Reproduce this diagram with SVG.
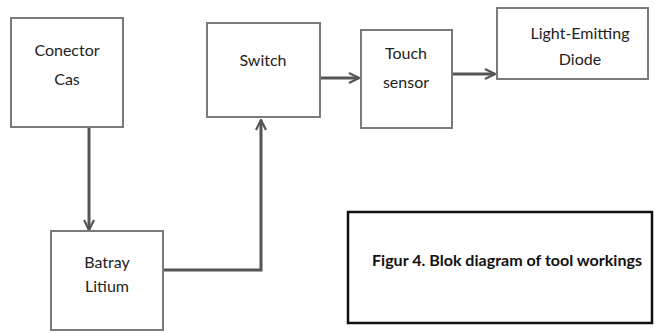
<svg xmlns="http://www.w3.org/2000/svg" width="655" height="333" viewBox="0 0 655 333">
<defs>
<style>
.box{fill:#fff;stroke:#7a7a7a;stroke-width:2}
.lbl{font-family:Lato,"Liberation Sans",sans-serif;font-size:16px;fill:#222;text-anchor:middle}
.con{fill:none;stroke:#555;stroke-width:3}
.cap{font-family:Lato,"Liberation Sans",sans-serif;font-size:15px;font-weight:bold;fill:#111}
</style>
<marker id="ah" viewBox="0 0 12 12" refX="11" refY="6" markerWidth="12" markerHeight="12" markerUnits="userSpaceOnUse" orient="auto">
<path d="M1,1 L11,6 L1,11" fill="none" stroke="#555" stroke-width="2.2"/>
</marker>
</defs>
<rect width="655" height="333" fill="#fff"/>
<g id="connectors">
<line class="con" x1="89" y1="127" x2="89" y2="230" marker-end="url(#ah)"/>
<polyline class="con" points="163,270 261,270 261,120" marker-end="url(#ah)"/>
<line class="con" x1="320" y1="78" x2="359" y2="78" marker-end="url(#ah)"/>
<line class="con" x1="452" y1="74" x2="495" y2="74" marker-end="url(#ah)"/>
</g>
<g id="conector-cas">
<rect class="box" x="11" y="18" width="112" height="109"/>
<text class="lbl" x="67" y="56">Conector</text>
<text class="lbl" x="67" y="85">Cas</text>
</g>
<g id="batray-litium">
<rect class="box" x="51" y="231" width="112" height="99"/>
<text class="lbl" x="107" y="268">Batray</text>
<text class="lbl" x="107" y="292">Litium</text>
</g>
<g id="switch">
<rect class="box" x="207" y="23" width="113" height="94"/>
<text class="lbl" x="263" y="66">Switch</text>
</g>
<g id="touch-sensor">
<rect class="box" x="361" y="30" width="91" height="98"/>
<text class="lbl" x="406" y="59">Touch</text>
<text class="lbl" x="406" y="88">sensor</text>
</g>
<g id="led">
<rect class="box" x="497" y="8" width="151" height="71"/>
<text class="lbl" x="580" y="39">Light-Emitting</text>
<text class="lbl" x="580" y="65">Diode</text>
</g>
<g id="caption">
<rect x="348" y="212" width="304" height="111" fill="none" stroke="#111" stroke-width="2.5"/>
<text class="cap" x="372" y="266" textLength="270" lengthAdjust="spacingAndGlyphs">Figur 4. Blok diagram of tool workings</text>
</g>
</svg>
